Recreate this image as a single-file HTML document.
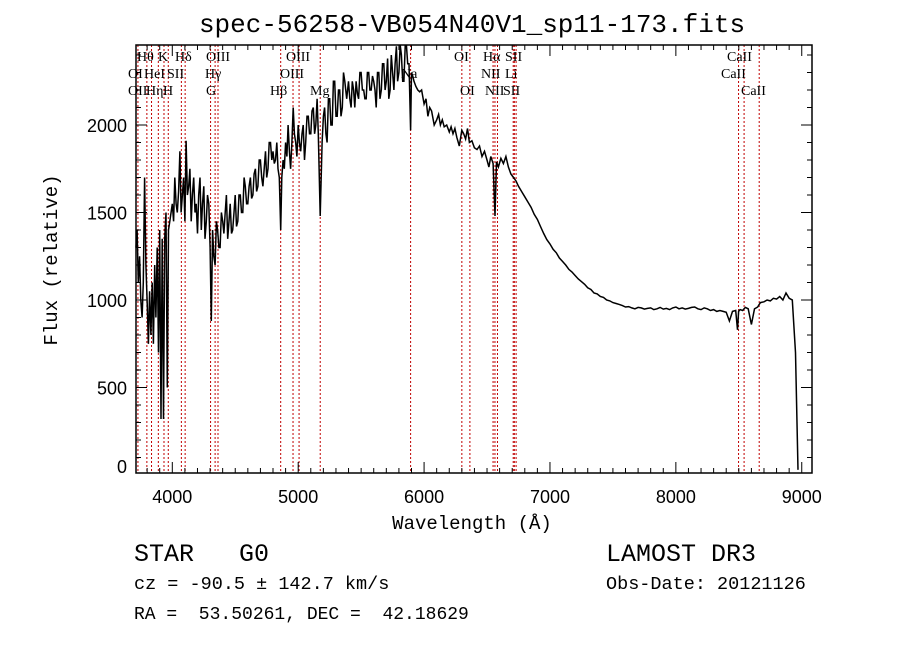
<!DOCTYPE html>
<html><head><meta charset="utf-8">
<style>
body{margin:0;background:#fff;width:900px;height:649px;overflow:hidden}
svg{display:block}
text{white-space:pre}
.mono{font-family:"Liberation Mono","DejaVu Sans Mono",monospace}
.ser{font-family:"Liberation Serif","DejaVu Serif",serif}
.sans{font-family:"Liberation Sans","DejaVu Sans",sans-serif}
</style></head>
<body>
<svg id="chart" width="900" height="649" xmlns="http://www.w3.org/2000/svg" xml:space="preserve">
<text x="472" y="32" text-anchor="middle" class="mono" font-size="26">spec-56258-VB054N40V1_sp11-173.fits</text>
<g id="lines"></g>
<g id="labels" class="ser" font-size="14"></g>
<g id="spec"></g>
<g id="axes"></g>
<text x="472" y="529" text-anchor="middle" class="mono" font-size="19">Wavelength (Å)</text>
<text transform="translate(57,260) rotate(-90)" text-anchor="middle" class="mono" font-size="19">Flux (relative)</text>
<text x="134" y="561" class="mono" font-size="25">STAR   G0</text>
<text x="606" y="561" class="mono" font-size="25">LAMOST DR3</text>
<text x="134" y="589" class="mono" font-size="18.5">cz = -90.5 ± 142.7 km/s</text>
<text x="606" y="589" class="mono" font-size="18.5">Obs-Date: 20121126</text>
<text x="134" y="619" class="mono" font-size="18">RA =  53.50261, DEC =  42.18629</text>
</svg>
<script>
const wave=[3712,3720,3730,3740,3750,3760,3770,3780,3790,3800,3810,3820,3830,3840,3850,3860,3870,3880,3890,3900,3910,3920,3930,3940,3950,3960,3970,3980,4000,4010,4020,4030,4040,4050,4060,4070,4080,4090,4100,4110,4120,4130,4140,4150,4160,4170,4180,4190,4200,4210,4220,4230,4240,4250,4260,4270,4280,4290,4300,4310,4320,4330,4340,4350,4360,4370,4380,4390,4400,4410,4420,4430,4440,4450,4460,4470,4480,4490,4500,4510,4520,4530,4540,4550,4560,4570,4580,4590,4600,4610,4620,4630,4640,4650,4660,4670,4680,4690,4700,4710,4720,4730,4740,4750,4760,4770,4780,4790,4800,4810,4820,4830,4840,4850,4861,4870,4880,4890,4900,4910,4920,4930,4940,4950,4960,4970,4980,4990,5000,5010,5020,5030,5040,5050,5060,5070,5080,5090,5100,5110,5120,5130,5140,5150,5160,5175,5190,5200,5210,5220,5230,5240,5250,5260,5270,5280,5290,5300,5310,5320,5330,5340,5350,5360,5370,5385,5400,5410,5420,5430,5440,5450,5460,5470,5480,5490,5500,5510,5520,5530,5540,5550,5560,5570,5580,5590,5600,5610,5620,5630,5640,5650,5660,5670,5680,5690,5700,5710,5720,5730,5740,5750,5760,5770,5780,5790,5800,5810,5820,5830,5840,5850,5860,5870,5880,5893,5900,5910,5920,5935,5950,5965,5980,6000,6015,6030,6045,6060,6080,6100,6115,6130,6145,6160,6180,6200,6215,6230,6245,6260,6280,6300,6315,6330,6345,6360,6380,6400,6420,6440,6460,6480,6500,6515,6530,6548,6563,6575,6590,6610,6630,6650,6670,6690,6710,6730,6750,6775,6800,6825,6850,6875,6900,6925,6950,6975,7000,7025,7050,7075,7100,7125,7150,7175,7200,7225,7250,7275,7300,7325,7350,7375,7400,7425,7450,7475,7500,7525,7550,7575,7600,7625,7650,7675,7700,7725,7750,7775,7800,7825,7850,7875,7900,7925,7950,7975,8000,8025,8050,8075,8100,8125,8150,8175,8200,8225,8250,8275,8300,8325,8350,8375,8400,8425,8450,8475,8490,8498,8510,8530,8542,8552,8575,8600,8625,8650,8662,8672,8700,8725,8750,8775,8800,8825,8850,8875,8900,8925,8950,8970,8985,8992,9000];
const flux=[1300,1400,1100,1250,1000,900,1100,1700,1200,1000,750,1050,800,1100,750,1200,900,1300,700,1400,320,1350,320,1350,1500,500,1400,1450,1550,1450,1700,1550,1500,1620,1850,1500,1600,1700,1450,1910,1600,1650,1750,1450,1600,1700,1500,1550,1380,1600,1700,1400,1550,1650,1350,1450,1600,1550,1300,880,1400,1250,1200,1450,1400,1300,1300,1500,1450,1380,1500,1600,1350,1450,1550,1380,1400,1500,1600,1420,1450,1600,1600,1500,1500,1700,1650,1550,1550,1650,1700,1580,1600,1720,1750,1620,1650,1800,1800,1700,1650,1750,1850,1700,1750,1900,1900,1800,1850,1780,1800,1900,1750,1700,1400,1700,1800,1750,1900,1820,2000,1850,1750,1900,2100,1950,1900,1820,2000,1900,1850,1950,2000,1800,1900,2050,2050,1950,1950,2080,2100,1950,2000,2150,1950,1480,1900,2050,2100,1950,1900,2150,2150,2000,2000,2250,2250,2050,2050,2200,2200,2050,2100,2300,2250,2150,2250,2150,2100,2250,2200,2100,2250,2180,2150,2300,2300,2200,2200,2150,2150,2300,2300,2200,2200,2280,2250,2200,2100,2300,2300,2150,2200,2350,2350,2200,2250,2380,2150,2200,2400,2300,2200,2350,2450,2250,2300,2470,2400,2250,2250,2450,2450,2350,2350,1970,2300,2280,2250,2220,2200,2190,2200,2120,2150,2050,2100,2080,2000,2030,2060,2000,2030,1990,2000,1960,1990,1950,1980,1930,1880,1970,1950,1920,1980,1900,1910,1870,1860,1880,1820,1850,1800,1760,1820,1780,1480,1790,1760,1810,1780,1820,1760,1720,1700,1680,1650,1620,1590,1560,1530,1490,1460,1420,1380,1345,1320,1290,1270,1240,1220,1200,1175,1160,1140,1120,1105,1090,1070,1060,1040,1035,1020,1015,1000,995,985,980,975,968,960,962,955,950,958,955,948,952,955,945,950,958,948,952,945,955,960,950,955,948,952,958,960,950,945,955,950,940,945,935,940,935,930,880,935,940,830,935,945,940,950,958,950,860,950,960,975,985,990,1000,995,1010,1005,1020,1000,1040,1010,1000,700,30];
const lineWave=[3727,3798,3835,3889,3934,3968,4072,4102,4304,4340,4363,4861,4959,5007,5175,5893,6300,6364,6548,6563,6583,6708,6717,6731,8498,8542,8662];
const labelText=["Hθ","K","Hδ","OIII","OIII","OI","Hα","SII","CaII","OI","HeI","SII","Hγ","OIII","Na","NII","Li","CaII","OII","Hη","H","G","Hβ","Mg","OI","NII","SII","CaII"];
const labelRow=[0,0,0,0,0,0,0,0,0,1,1,1,1,1,1,1,1,1,2,2,2,2,2,2,2,2,2,2];
const labelAnchorX=[137,158,175,206,286,454,483,505,727,128,144,167,205,280,401,481,505,721,128,146,163,206,270,310,460,485,503,741];
const xTicks=[4000,5000,6000,7000,8000,9000];
const yTicks=[0,500,1000,1500,2000];

const L=136,R=812,T=45,B=473;
const X=w=>172.3+(w-4000)*0.12589;
const Y=f=>475-f*0.175;
const NS="http://www.w3.org/2000/svg";
function mk(tag,attrs,parent){const e=document.createElementNS(NS,tag);for(const k in attrs)e.setAttribute(k,attrs[k]);parent.appendChild(e);return e;}

const lines=document.getElementById('lines');
lineWave.forEach(w=>{const l=mk('line',{x1:X(w),x2:X(w),y1:T,y2:B,stroke:'#c00000','stroke-width':1,'stroke-dasharray':'2 2'},lines);

});

const labels=document.getElementById('labels');
labelText.forEach((t,i)=>{const e=mk('text',{x:labelAnchorX[i],y:61+labelRow[i]*17},labels);e.textContent=t;

});

const spec=document.getElementById('spec');
let pts=wave.map((w,i)=>X(w).toFixed(1)+','+Math.min(B,Math.max(T,Y(flux[i]))).toFixed(1)).join(' ');
const pl=mk('polyline',{points:pts,fill:'none',stroke:'#000','stroke-width':1.5},spec);



const ax=document.getElementById('axes');
const fr=mk('rect',{x:L,y:T,width:R-L,height:B-T,fill:'none',stroke:'#000','stroke-width':1.5},ax);


for(let w=3800;w<=9000;w+=100){const x=X(w);const len=(w%1000===0)?11:5;
mk('line',{x1:x,x2:x,y1:B,y2:B-len,stroke:'#000'},ax);mk('line',{x1:x,x2:x,y1:T,y2:T+len,stroke:'#000'},ax);}
for(let f=100;f<=2400;f+=100){const y=Y(f);const len=(f%500===0)?11:5;
mk('line',{x1:L,x2:L+len,y1:y,y2:y,stroke:'#000'},ax);mk('line',{x1:R,x2:R-len,y1:y,y2:y,stroke:'#000'},ax);}
xTicks.forEach(w=>{const t=mk('text',{x:X(w),y:503,'text-anchor':'middle','font-size':18,class:'sans'},ax);t.textContent=w;

});
yTicks.forEach(f=>{const t=mk('text',{x:127,y:Math.min(Y(f),466)+7,'text-anchor':'end','font-size':18,class:'sans'},ax);t.textContent=f;

});
</script>
</body></html>
